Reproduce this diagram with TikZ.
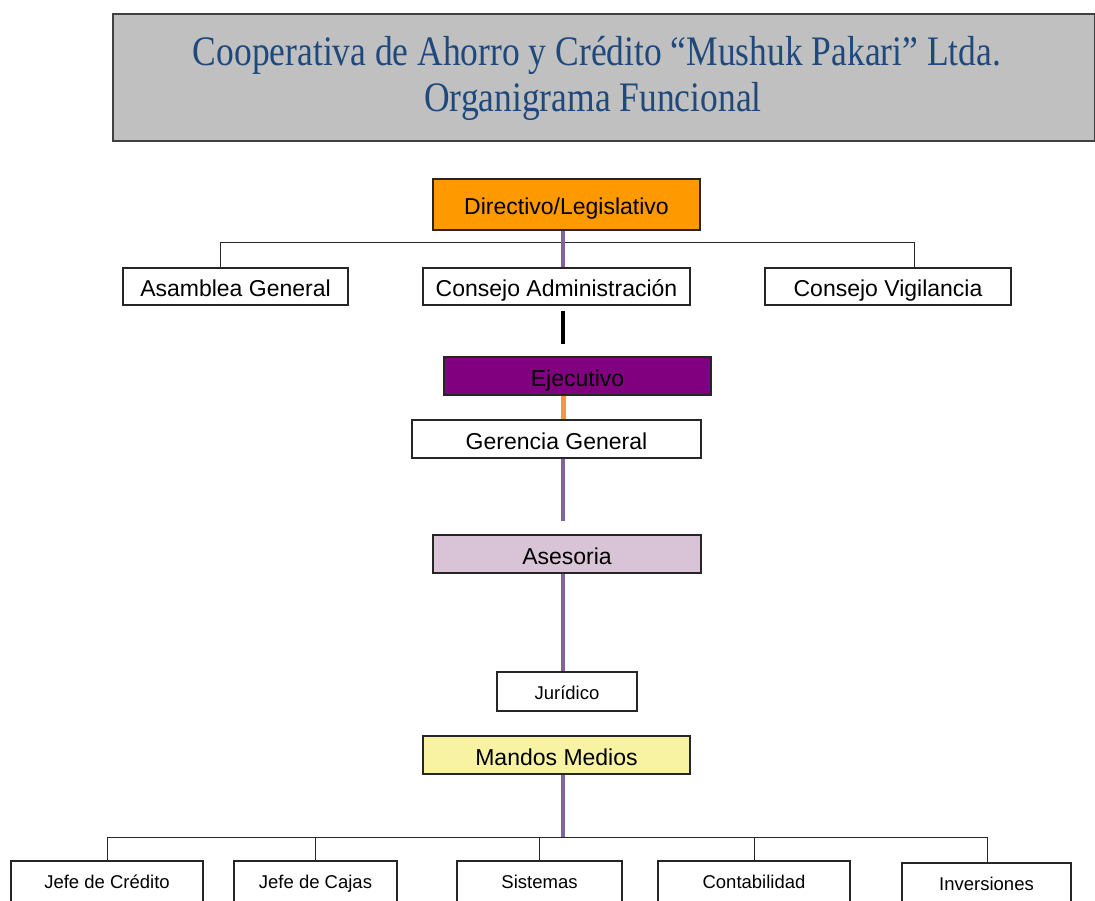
\documentclass[tikz,border=0pt]{standalone}
\usepackage{fontspec}
\setmainfont{Liberation Sans}
\newfontfamily\titlefont[FakeStretch=0.845]{Liberation Serif}
\definecolor{titleblue}{RGB}{31,73,125}
\definecolor{titlegray}{RGB}{192,192,192}
\definecolor{dirorange}{RGB}{255,153,0}
\definecolor{ejpurple}{RGB}{128,0,128}
\definecolor{asemauve}{RGB}{216,196,214}
\definecolor{mandyellow}{RGB}{247,243,163}
\definecolor{linepurple}{RGB}{128,100,162}
\definecolor{lineorange}{RGB}{247,150,70}
\begin{document}
\begin{tikzpicture}[x=1pt,y=-1pt,
  box/.style={draw=black!85, line width=1.2pt, inner sep=0pt, anchor=center,
    font=\fontsize{23}{26}\selectfont, text height=20pt, text depth=0pt},
  smallbox/.style={box, font=\fontsize{18.5}{21}\selectfont, text height=15pt, text depth=0pt},
  lowbox/.style={box, font=\fontsize{18.5}{21}\selectfont, text height=20pt, text depth=12pt},
  tree/.style={draw=black!85, line width=1pt},
  pline/.style={draw=linepurple, line width=4.5pt},
  bline/.style={draw=black, line width=4pt},
  oline/.style={draw=lineorange, line width=5pt}]
\useasboundingbox (0,0) rectangle (1095,900);
% title
\node[draw=black!75, line width=1.5pt, fill=titlegray, minimum width=982pt, minimum height=127pt, inner sep=0pt] (title) at (604,77.5) {};
\node[anchor=base, text=titleblue, font=\titlefont\fontsize{42}{46}\selectfont] (t1) at (597,65) {Cooperativa de Ahorro y Crédito “Mushuk Pakari” Ltda.};
\node[anchor=base, text=titleblue, font=\titlefont\fontsize{42}{46}\selectfont] (t2) at (593,111) {Organigrama Funcional};
% nodes
\node[box, fill=dirorange, minimum width=267pt, minimum height=51pt] (dir) at (566.5,204.5) {Directivo/Legislativo};
\node[box, minimum width=225pt, minimum height=37pt] (asam) at (235.5,286.5) {Asamblea General};
\node[box, minimum width=267pt, minimum height=37pt] (cadm) at (556.5,286.5) {Consejo Administración};
\node[box, minimum width=246pt, minimum height=37pt] (cvig) at (888,286.5) {Consejo Vigilancia};
\node[box, fill=ejpurple, minimum width=267pt, minimum height=38pt] (ejec) at (577.5,376) {Ejecutivo};
\node[box, minimum width=289pt, minimum height=38pt] (ger) at (556.5,439) {Gerencia General};
\node[box, fill=asemauve, minimum width=268pt, minimum height=38pt] (ases) at (567,554) {Asesoria};
\node[smallbox, minimum width=140pt, minimum height=39pt] (jur) at (567,691.5) {Jurídico};
\node[box, fill=mandyellow, minimum width=267pt, minimum height=38pt] (mand) at (556.5,755) {Mandos Medios};
\node[lowbox, minimum width=192pt, minimum height=46pt] (jcred) at (107,884) {Jefe de Crédito};
\node[lowbox, minimum width=163pt, minimum height=46pt] (jcaj) at (315.5,884) {Jefe de Cajas};
\node[lowbox, minimum width=165pt, minimum height=46pt] (sist) at (539.5,884) {Sistemas};
\node[lowbox, minimum width=192pt, minimum height=46pt] (cont) at (754,884) {Contabilidad};
\node[lowbox, minimum width=169pt, minimum height=46pt] (inv) at (986.5,886) {Inversiones};
% coordinates
\coordinate (cx) at (563,0);
\coordinate (topL) at (220,242);
\coordinate (topR) at (914,242);
\coordinate (botL) at (107,837);
\coordinate (botR) at (987,837);
\coordinate (botC) at (563,837);
% top tree
\draw[tree] (asam.north -| topL) -- (topL) -- (topR) -- (cvig.north -| topR);
\draw[pline] (dir.south -| cx) -- (cadm.north -| cx);
% vertical spine
\draw[bline, shorten <=5pt, shorten >=12pt] (cadm.south -| cx) -- (ejec.north -| cx);
\draw[oline] (ejec.south -| cx) -- (ger.north -| cx);
\draw[pline, shorten >=13pt] (ger.south -| cx) -- (ases.north -| cx);
\draw[pline] (ases.south -| cx) -- (jur.north -| cx);
% bottom tree
\draw[tree] (botL) -- (botR);
\draw[tree] (botL) -- (jcred.north);
\draw[tree] (jcaj.north |- botL) -- (jcaj.north);
\draw[tree] (sist.north |- botL) -- (sist.north);
\draw[tree] (cont.north |- botL) -- (cont.north);
\draw[tree] (botR) -- (inv.north -| botR);
\draw[pline] (mand.south -| cx) -- (botC);
\end{tikzpicture}
\end{document}
